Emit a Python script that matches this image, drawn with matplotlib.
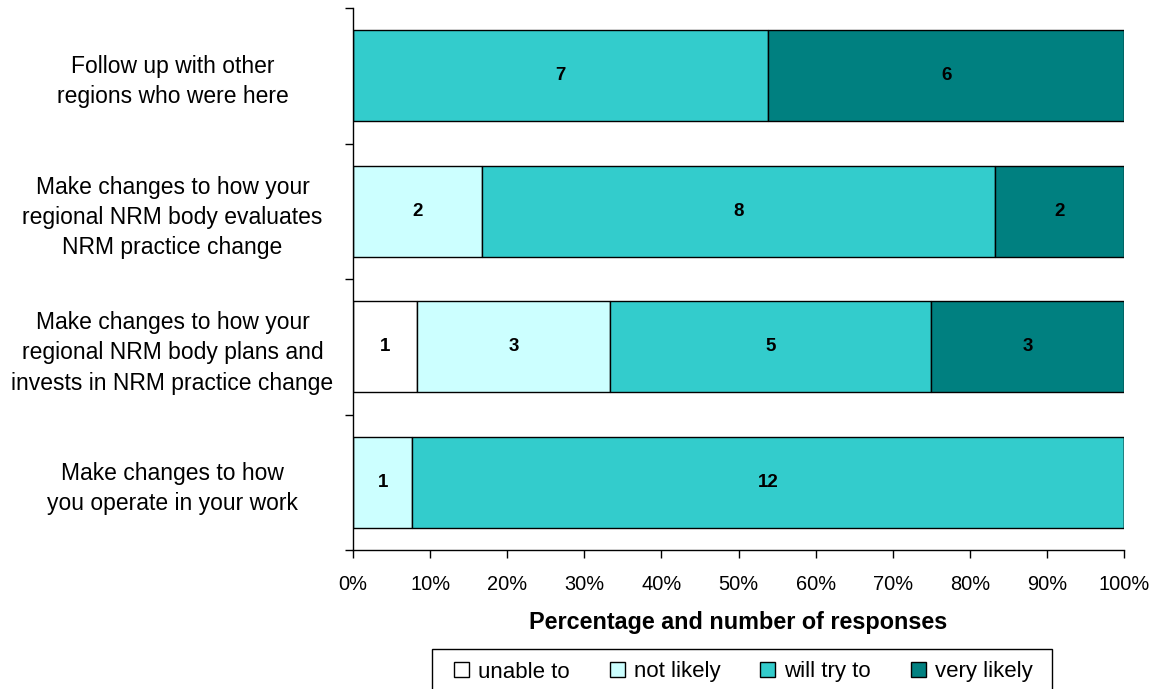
import numpy as np
import matplotlib.pyplot as plt
from matplotlib.patches import Rectangle
from matplotlib.ticker import PercentFormatter

plt.rcParams['font.family'] = ['Liberation Sans', 'DejaVu Sans']

questions = [
    "Follow up with other\nregions who were here",
    "Make changes to how your\nregional NRM body evaluates\nNRM practice change",
    "Make changes to how your\nregional NRM body plans and\ninvests in NRM practice change",
    "Make changes to how\nyou operate in your work",
]
levels = ["unable to", "not likely", "will try to", "very likely"]
colors = ["#FFFFFF", "#CCFFFF", "#33CCCC", "#008080"]

unable_to = [0, 0, 1, 0]
not_likely = [0, 2, 3, 1]
will_try_to = [7, 8, 5, 12]
very_likely = [6, 2, 3, 0]

counts = np.array([unable_to, not_likely, will_try_to, very_likely], dtype=float)
totals = counts.sum(axis=0)
pct = counts / totals * 100

W, H = 1157, 689
fig = plt.figure(figsize=(W / 100, H / 100), dpi=100)
ax = fig.add_axes([353 / W, 1 - 550 / H, (1124 - 353) / W, (550 - 8) / H])

y = np.arange(len(questions))
left = np.zeros(len(questions))
for i, name in enumerate(levels):
    ax.barh(y, pct[i], left=left, height=0.67, color=colors[i],
            edgecolor="black", linewidth=1.0, label=name)
    for j in range(len(questions)):
        if counts[i, j] > 0:
            ax.text(left[j] + pct[i, j] / 2, y[j], f"{int(counts[i, j])}",
                    ha="center", va="center", fontsize=13.5, fontweight="bold")
    left += pct[i]

ax.set_xlim(0, 100)
ax.set_ylim(len(questions) - 0.5, -0.5)
ax.xaxis.set_major_formatter(PercentFormatter(decimals=0))
ax.set_xticks(np.arange(0, 101, 10))
ax.set_yticks(y)
ax.set_yticklabels(questions, fontsize=16.5, ha="center", linespacing=1.4)
# pad is in points: centres the labels about 180 px left of the axis
ax.tick_params(axis="y", length=0, pad=130)
ax.set_yticks(np.arange(-0.5, len(questions)), minor=True)
ax.tick_params(axis="y", which="minor", length=6, width=1)
ax.tick_params(axis="x", labelsize=14.4, length=6, width=1, pad=12)

for side in ["top", "right"]:
    ax.spines[side].set_visible(False)
for side in ["left", "bottom"]:
    ax.spines[side].set_color("black")
    ax.spines[side].set_linewidth(1.0)

ax.set_xlabel("Percentage and number of responses", fontsize=16.8,
              fontweight="bold", labelpad=12)

# legend entries without a frame, box drawn separately (runs off the bottom edge)
fig.legend(loc="center left", bbox_to_anchor=(454 / W, 1 - 672 / H), ncol=4,
           fontsize=16, frameon=False, handlelength=0.68, handleheight=0.68,
           handletextpad=0.4, columnspacing=1.8, borderpad=0, borderaxespad=0)
fig.add_artist(Rectangle((432 / W, -0.02), 620 / W, (H - 649) / H + 0.02,
                         transform=fig.transFigure, fill=False,
                         edgecolor="black", linewidth=1.0))

fig.savefig("out.png", dpi=100)
